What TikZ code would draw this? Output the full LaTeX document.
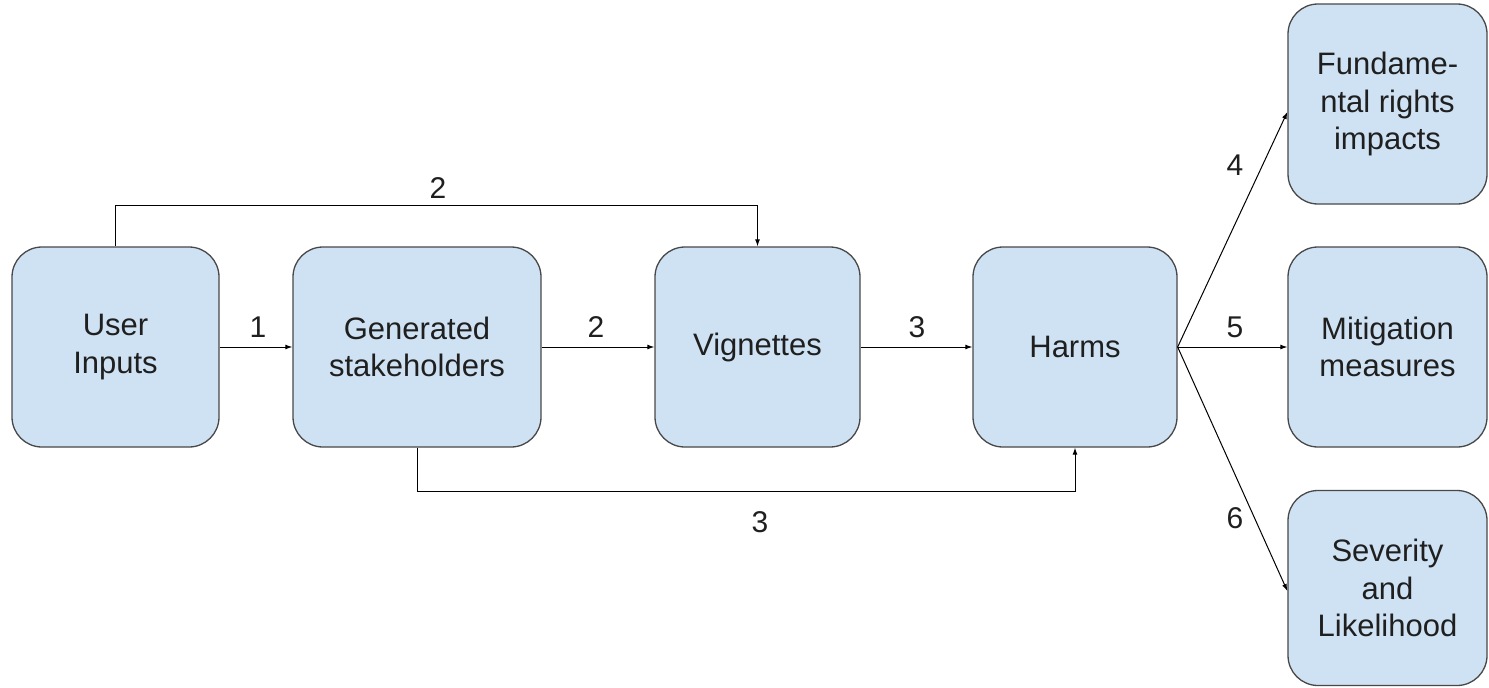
\documentclass[tikz,border=0pt]{standalone}
\usepackage{fontspec}
\setmainfont{Liberation Sans}
\usetikzlibrary{arrows.meta,calc}
\definecolor{boxfill}{HTML}{CFE2F3}
\definecolor{boxline}{HTML}{484848}
\definecolor{ink}{HTML}{1F1F1F}
\begin{document}
\begin{tikzpicture}[x=1pt,y=-1pt,
  stage/.style={draw=boxline,line width=1.3pt,fill=boxfill,rounded corners=30pt,
    minimum height=200pt,align=center,text=ink,inner sep=2pt,
    font=\fontsize{31}{37.5}\selectfont},
  flow/.style={draw=black,line width=1pt,-{Latex[length=7pt,width=5pt]}},
  num/.style={text=ink,font=\fontsize{30}{34}\selectfont,inner sep=0pt}]
\useasboundingbox (0,0) rectangle (1489,688);

% main stages
\node[stage,minimum width=207pt] (ui) at (115.5,347) {User\\Inputs};
\node[stage,minimum width=248pt] (gs) at (417,347) {Generated\\stakeholders};
\node[stage,minimum width=205pt] (vg) at (757.5,347) {Vignettes};
\node[stage,minimum width=204pt] (hm) at (1075,347) {Harms};

% outputs
\node[stage,minimum width=199pt] (fr) at (1387.5,104) {Fundame-\\ntal rights\\impacts};
\node[stage,minimum width=199pt] (mm) at (1387.5,347) {Mitigation\\measures};
\node[stage,minimum width=199pt,minimum height=195pt] (sl) at (1387.5,588) {Severity\\and\\Likelihood};

% straight connectors
\draw[flow] (ui.east) -- (gs.west);
\draw[flow] (gs.east) -- (vg.west);
\draw[flow] (vg.east) -- (hm.west);
\draw[flow] (hm.east) -- (mm.west);
\draw[flow] (hm.east) -- ([yshift=-8pt]fr.west);
\draw[flow] (hm.east) -- ([yshift=-3pt]sl.west);

% elbow connectors
\coordinate (topy) at (0,205);
\coordinate (boty) at (0,491);
\draw[flow] (ui.north) -- (ui.north |- topy) -- (vg.north |- topy) -- (vg.north);
\draw[flow] (gs.south) -- (gs.south |- boty) -- (hm.south |- boty) -- (hm.south);

% step numbers
\node[num] (n1) at (258,327) {1};
\node[num] (n2) at (596,327) {2};
\node[num] (n3) at (917,327) {3};
\node[num] (n2t) at (438,188) {2};
\node[num] (n3b) at (760,522) {3};
\node[num] (n4) at (1235,165) {4};
\node[num] (n5) at (1235,327) {5};
\node[num] (n6) at (1235,518) {6};
\end{tikzpicture}
\end{document}
